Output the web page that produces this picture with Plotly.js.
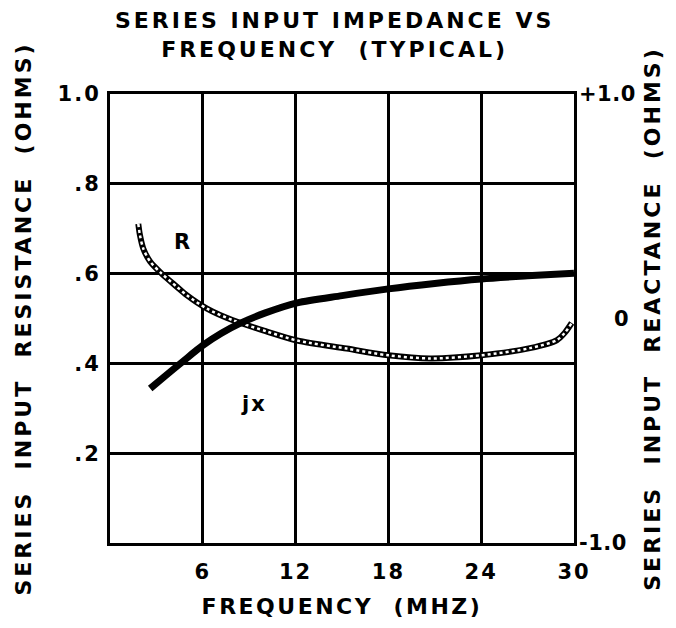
<!DOCTYPE html>
<html>
<head>
<meta charset="utf-8">
<script src="https://cdn.plot.ly/plotly-3.0.1.min.js"></script>
<style>
  html, body { margin: 0; padding: 0; background: #fff; }
  #chart { width: 676px; height: 628px; }
  .main-svg text { letter-spacing: 2px; }
  .main-svg text.gtitle { letter-spacing: 3px; }
  .main-svg text.ytitle, .main-svg text.y2title { letter-spacing: 3px; }
  .main-svg text.xtitle { letter-spacing: 2.5px; }
  .main-svg .y2tick text { letter-spacing: 0.5px; }
</style>
</head>
<body>
<div id="chart"></div>
<script>
// Frequency (MHz) and series input resistance R (ohms, left axis)
const freqR = [1.83, 1.94, 2.15, 2.59, 3.34, 4.31, 4.96, 6.27, 7.95, 10.15, 12.1, 15.3, 18.0, 20.7, 24.0, 27.15, 28.9, 29.4, 29.85];
const resistR = [0.711, 0.685, 0.656, 0.627, 0.600, 0.571, 0.552, 0.522, 0.496, 0.471, 0.451, 0.433, 0.418, 0.411, 0.418, 0.434, 0.452, 0.468, 0.49];

// Frequency (MHz) and series input reactance jX (ohms, right axis)
const freqX = [2.6, 3.5, 4.7, 6.0, 7.2, 8.4, 10.0, 12.1, 15.0, 18.0, 21.0, 24.0, 27.0, 30.0];
const reactX = [-0.312, -0.26, -0.192, -0.12, -0.066, -0.022, 0.024, 0.07, 0.102, 0.132, 0.156, 0.176, 0.19, 0.202];

// Axis ticks
const xTicks = [6, 12, 18, 24, 30];
const xTickText = ['6', '12', '18', '24', '30'];
const yTicks = [0.2, 0.4, 0.6, 0.8, 1.0];
const yTickText = ['.2', '.4', '.6', '.8', '1.0'];
const y2Ticks = [-1, 0, 1];
const y2TickText = ['-1.0', '\u2007\u2007\u20090', '+1.0'];

const NB = '\u00a0';
const FONT = 'DejaVu Sans, Liberation Sans, Arial, sans-serif';

const traces = [
  { x: freqR, y: resistR, type: 'scatter', mode: 'lines', yaxis: 'y',
    line: { color: '#000', width: 6, shape: 'spline', smoothing: 0.8 }, hoverinfo: 'skip', showlegend: false },
  { x: freqR, y: resistR, type: 'scatter', mode: 'lines', yaxis: 'y', name: 'R',
    line: { color: '#fff', width: 2.5, dash: 'dot', shape: 'spline', smoothing: 0.8 }, showlegend: false },
  { x: freqX, y: reactX, type: 'scatter', mode: 'lines', yaxis: 'y2', name: 'jx',
    line: { color: '#000', width: 7, shape: 'spline', smoothing: 0.8 }, showlegend: false }
];

const layout = {
  width: 676, height: 628,
  margin: { l: 110, r: 102, t: 94, b: 85 },
  paper_bgcolor: '#fff', plot_bgcolor: '#fff',
  font: { family: FONT, size: 21, color: '#000', weight: 'bold' },
  title: {
    text: 'SERIES INPUT IMPEDANCE VS<br>FREQUENCY' + NB + NB + '(TYPICAL)',
    font: { family: FONT, size: 22, color: '#000', weight: 'bold' },
    x: 0.495, xanchor: 'center', y: 0.955, yanchor: 'top'
  },
  xaxis: {
    range: [0, 30], tickvals: xTicks, ticktext: xTickText,
    showgrid: true, gridcolor: '#000', gridwidth: 3,
    showline: true, linecolor: '#000', linewidth: 3, mirror: true,
    zeroline: false, ticks: '', ticklabelstandoff: 8,
    tickfont: { family: FONT, size: 21, weight: 'bold' },
    title: { text: 'FREQUENCY' + NB + NB + '(MHZ)', standoff: 16,
             font: { family: FONT, size: 22, weight: 'bold' } },
    fixedrange: true
  },
  yaxis: {
    range: [0, 1], tickvals: yTicks, ticktext: yTickText,
    showgrid: true, gridcolor: '#000', gridwidth: 3,
    showline: true, linecolor: '#000', linewidth: 3, mirror: true,
    zeroline: false, ticks: '', ticklabelstandoff: 2,
    tickfont: { family: FONT, size: 21, weight: 'bold' },
    title: { text: 'SERIES' + NB + NB + 'INPUT' + NB + NB + 'RESISTANCE' + NB + NB + '(OHMS)', standoff: 26,
             font: { family: FONT, size: 22, weight: 'bold' } },
    fixedrange: true
  },
  yaxis2: {
    overlaying: 'y', side: 'right', anchor: 'x',
    range: [-1, 1], tickvals: y2Ticks, ticktext: y2TickText,
    showgrid: false, zeroline: false, showline: false, ticks: '', ticklabelstandoff: 4,
    tickfont: { family: FONT, size: 21, weight: 'bold' },
    title: { text: 'SERIES' + NB + NB + 'INPUT' + NB + NB + 'REACTANCE' + NB + NB + '(OHMS)', standoff: 11,
             font: { family: FONT, size: 22, weight: 'bold' } },
    fixedrange: true
  },
  annotations: [
    { x: 4.75, y: 0.67, xref: 'x', yref: 'y', text: 'R', showarrow: false,
      font: { family: FONT, size: 21, weight: 'bold', color: '#000' } },
    { x: 9.3, y: 0.31, xref: 'x', yref: 'y', text: 'jx', showarrow: false,
      font: { family: FONT, size: 21, weight: 'bold', color: '#000' } }
  ],
  showlegend: false
};

Plotly.newPlot('chart', traces, layout, { displayModeBar: false, staticPlot: true });
</script>
</body>
</html>
